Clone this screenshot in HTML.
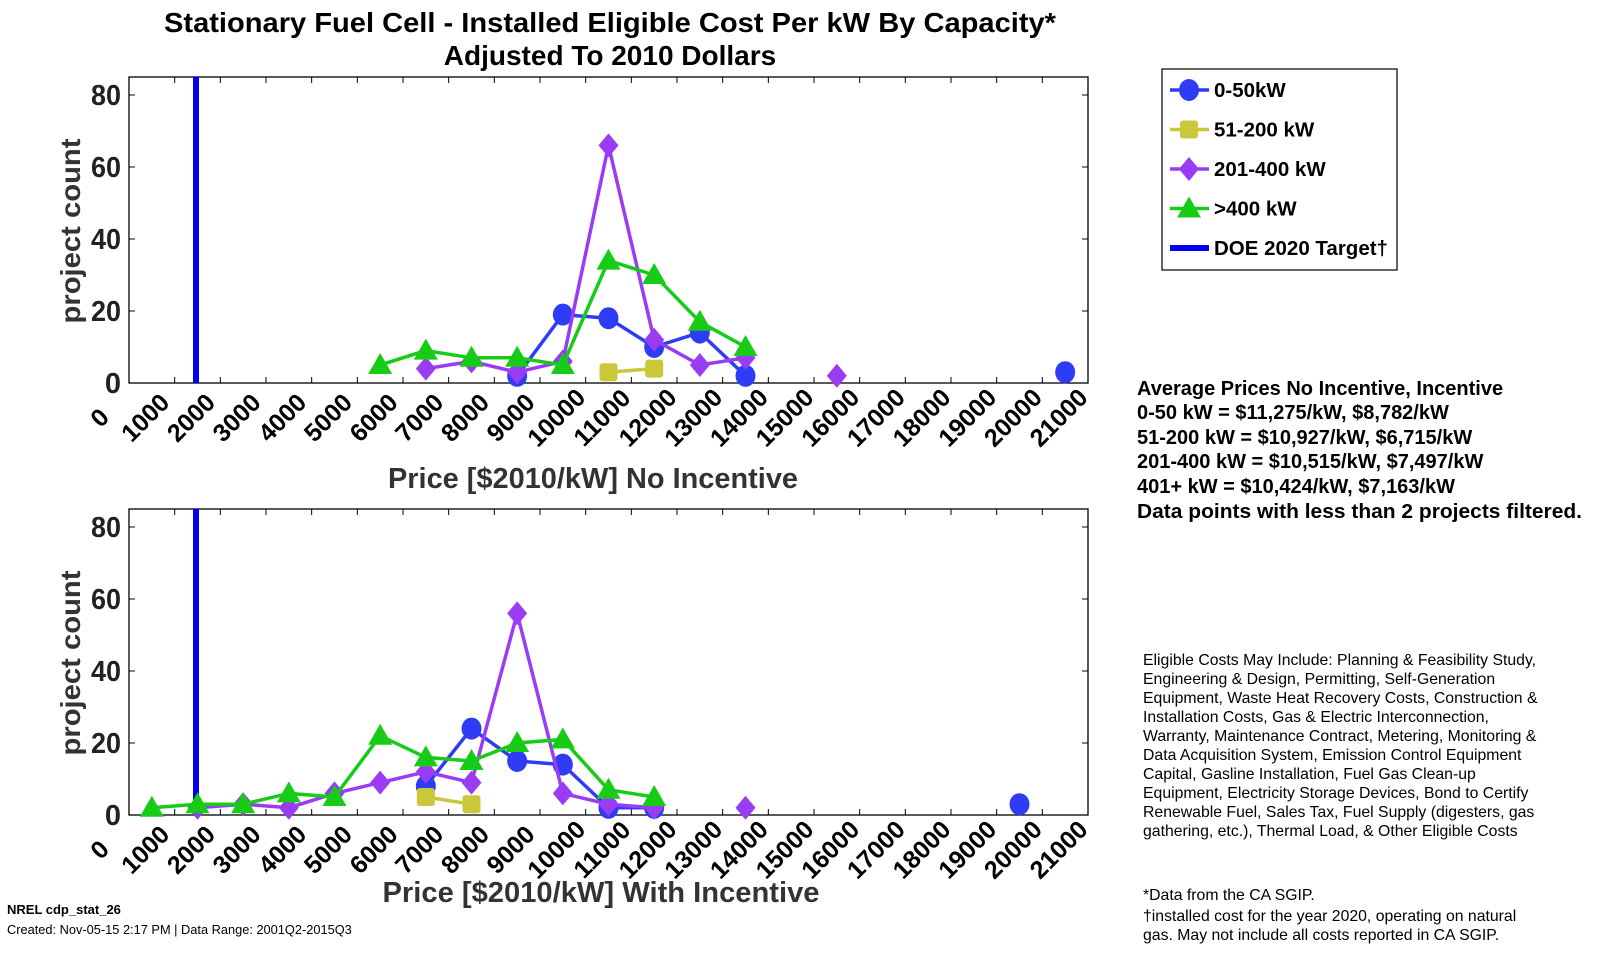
<!DOCTYPE html>
<html><head><meta charset="utf-8"><style>
body{margin:0;background:#fff;}
svg{display:block;font-family:"Liberation Sans",sans-serif;}
</style></head><body>
<svg id="s" width="1600" height="960" viewBox="0 0 1600 960" xmlns="http://www.w3.org/2000/svg">
<text x="610" y="32" font-size="28" font-weight="bold" text-anchor="middle" textLength="892" lengthAdjust="spacingAndGlyphs">Stationary Fuel Cell - Installed Eligible Cost Per kW By Capacity*</text>
<text x="610" y="65" font-size="28" font-weight="bold" text-anchor="middle">Adjusted To 2010 Dollars</text>
<text x="593" y="488" font-size="29" font-weight="bold" fill="#333" text-anchor="middle" textLength="410" lengthAdjust="spacingAndGlyphs">Price [$2010/kW] No Incentive</text>
<text x="601" y="902" font-size="29" font-weight="bold" fill="#333" text-anchor="middle" textLength="437" lengthAdjust="spacingAndGlyphs">Price [$2010/kW] With Incentive</text>
<text transform="translate(80,231) rotate(-90)" font-size="28" font-weight="bold" fill="#333" text-anchor="middle" textLength="185" lengthAdjust="spacingAndGlyphs">project count</text>
<text transform="translate(80,663) rotate(-90)" font-size="28" font-weight="bold" fill="#333" text-anchor="middle" textLength="185" lengthAdjust="spacingAndGlyphs">project count</text>
<g id="plots"></g>
<rect x="1162" y="69" width="235" height="201" fill="#fff" stroke="#000" stroke-width="1.2"/>
<g id="leg" font-size="20.5" font-weight="bold" transform="translate(-6,0)"></g>
<g font-size="20" font-weight="bold">
<text x="1137" y="395">Average Prices No Incentive, Incentive</text>
<text x="1137" y="419">0-50 kW = $11,275/kW, $8,782/kW</text>
<text x="1137" y="444">51-200 kW = $10,927/kW, $6,715/kW</text>
<text x="1137" y="468">201-400 kW = $10,515/kW, $7,497/kW</text>
<text x="1137" y="493">401+ kW = $10,424/kW, $7,163/kW</text>
<text x="1137" y="518" textLength="445" lengthAdjust="spacingAndGlyphs">Data points with less than 2 projects filtered.</text>
</g>
<g font-size="15.8">
<text x="1143" y="665">Eligible Costs May Include: Planning &amp; Feasibility Study,</text>
<text x="1143" y="684">Engineering &amp; Design, Permitting, Self-Generation</text>
<text x="1143" y="703">Equipment, Waste Heat Recovery Costs, Construction &amp;</text>
<text x="1143" y="722">Installation Costs, Gas &amp; Electric Interconnection,</text>
<text x="1143" y="741">Warranty, Maintenance Contract, Metering, Monitoring &amp;</text>
<text x="1143" y="760">Data Acquisition System, Emission Control Equipment</text>
<text x="1143" y="779">Capital, Gasline Installation, Fuel Gas Clean-up</text>
<text x="1143" y="798">Equipment, Electricity Storage Devices, Bond to Certify</text>
<text x="1143" y="817">Renewable Fuel, Sales Tax, Fuel Supply (digesters, gas</text>
<text x="1143" y="836">gathering, etc.), Thermal Load, &amp; Other Eligible Costs</text>
<text x="1143" y="900">*Data from the CA SGIP.</text>
<text x="1143" y="921">†installed cost for the year 2020, operating on natural</text>
<text x="1143" y="940">gas. May not include all costs reported in CA SGIP.</text>
</g>
<text x="7" y="914" font-size="13" font-weight="bold">NREL cdp_stat_26</text>
<text x="7" y="934" font-size="12.8">Created: Nov-05-15  2:17 PM | Data Range: 2001Q2-2015Q3</text>
</svg>
<script>
const NS="http://www.w3.org/2000/svg";
const g=document.getElementById('plots');
function el(t,a,p){const e=document.createElementNS(NS,t);for(const k in a)e.setAttribute(k,a[k]);(p||g).appendChild(e);return e;}
const L=129,R=1088,sx=(R-L)/21000;
const C={b:'#2f3cf5',y:'#c9c83a',p:'#9b3cf5',g:'#17cc17'};
function mark(type,x,y,p){const c=C[type];
 if(type=='b')el('ellipse',{cx:x,cy:y,rx:10,ry:11,fill:c},p);
 else if(type=='y')el('rect',{x:x-9,y:y-9,width:18,height:18,rx:3,fill:c},p);
 else if(type=='p')el('polygon',{points:`${x},${y-12} ${x+10},${y} ${x},${y+12} ${x-10},${y}`,fill:c},p);
 else el('polygon',{points:`${x},${y-12} ${x+12},${y+9} ${x-12},${y+9}`,fill:c},p);}
function plot(T,B,data){
 const sy=(B-T)/85;const X=v=>L+v*sx,Y=v=>B-v*sy;
 el('rect',{x:L,y:T,width:R-L,height:B-T,fill:'none',stroke:'#000','stroke-width':1.3});
 for(let i=0;i<=21;i++){const x=X(i*1000);
  el('line',{x1:x,y1:B,x2:x,y2:B-6,stroke:'#000'});el('line',{x1:x,y1:T,x2:x,y2:T+6,stroke:'#000'});
  const s=String(i*1000);
  const t=el('text',{transform:`translate(${x-29},${B+35}) rotate(-45)`,'font-size':25,'font-weight':'bold','text-anchor':'middle','dominant-baseline':'central'});t.textContent=s;}
 for(let v=0;v<=80;v+=20){const y=Y(v);
  el('line',{x1:L,y1:y,x2:L+6,y2:y,stroke:'#000'});el('line',{x1:R,y1:y,x2:R-6,y2:y,stroke:'#000'});
  const a={x:L-8,y:y+10,'font-size':29,'font-weight':'bold','text-anchor':'end',fill:'#222'};
  if(v>0){a.textLength=30;a.lengthAdjust='spacingAndGlyphs';}
  const t=el('text',a);t.textContent=v;}
 el('line',{x1:196,y1:T,x2:196,y2:B,stroke:'#0000ee','stroke-width':6});
 for(const [type,segs] of data){for(const s of segs){
  if(s.length>1)el('polyline',{points:s.map(p=>X(p[0])+','+Y(p[1])).join(' '),fill:'none',stroke:C[type],'stroke-width':3.5,'stroke-linejoin':'round'});
  for(const p of s)mark(type,X(p[0]),Y(p[1]));}}
}
const k=a=>a.map(([x,y])=>[x*1000,y]);
plot(77,383,[
 ['b',[k([[8.5,2],[9.5,19],[10.5,18],[11.5,10],[12.5,14],[13.5,2]]),k([[20.5,3]])]],
 ['y',[k([[10.5,3],[11.5,4]])]],
 ['p',[k([[6.5,4],[7.5,6],[8.5,3],[9.5,6],[10.5,66],[11.5,12],[12.5,5],[13.5,7]]),k([[15.5,2]])]],
 ['g',[k([[5.5,5],[6.5,9],[7.5,7],[8.5,7],[9.5,5],[10.5,34],[11.5,30],[12.5,17],[13.5,10]])]]
]);
plot(509,815,[
 ['b',[k([[6.5,8],[7.5,24],[8.5,15],[9.5,14],[10.5,2],[11.5,2]]),k([[19.5,3]])]],
 ['y',[k([[6.5,5],[7.5,3]])]],
 ['p',[k([[1.5,2],[2.5,3],[3.5,2],[4.5,6],[5.5,9],[6.5,12],[7.5,9],[8.5,56],[9.5,6],[10.5,3],[11.5,2]]),k([[13.5,2]])]],
 ['g',[k([[0.5,2],[1.5,3],[2.5,3],[3.5,6],[4.5,5],[5.5,22],[6.5,16],[7.5,15],[8.5,20],[9.5,21],[10.5,7],[11.5,5]])]]
]);
const lg=document.getElementById('leg');
const items=[['b','0-50kW'],['y','51-200 kW'],['p','201-400 kW'],['g','>400 kW'],['d','DOE 2020 Target†']];
items.forEach(([t,lab],i)=>{const y=90+i*39.5;
 if(t=='d')el('line',{x1:1176,y1:y,x2:1215,y2:y,stroke:'#0000ee','stroke-width':6},lg);
 else{el('line',{x1:1176,y1:y,x2:1215,y2:y,stroke:C[t],'stroke-width':3.5},lg);mark(t,1195,y,lg);}
 const tx=el('text',{x:1220,y:y+7},lg);tx.textContent=lab;});
</script>
</body></html>
